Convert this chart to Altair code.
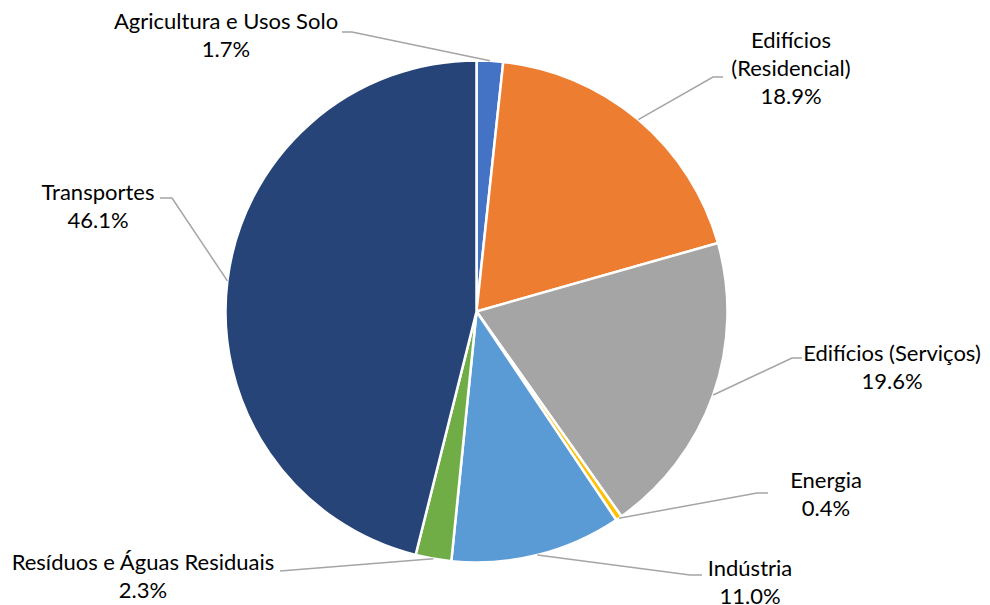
import math
import altair as alt
import pandas as pd

# ---- data ----
names = ["Agricultura e Usos Solo", "Edifícios (Residencial)", "Edifícios (Serviços)",
         "Energia", "Indústria", "Resíduos e Águas Residuais", "Transportes"]
values = [1.7, 18.9, 19.6, 0.4, 11.0, 2.3, 46.1]
colors = ["#4472C4", "#ED7D31", "#A5A5A5", "#FFC000", "#5B9BD5", "#70AD47", "#264478"]
label_lines = [["Agricultura e Usos Solo", "1.7%"],
               ["Edifícios", "(Residencial)", "18.9%"],
               ["Edifícios (Serviços)", "19.6%"],
               ["Energia", "0.4%"],
               ["Indústria", "11.0%"],
               ["Resíduos e Águas Residuais", "2.3%"],
               ["Transportes", "46.1%"]]

# ---- layout (page pixels) ----
W, H = 990, 605
M = 8
VW, VH = W - 2 * M, H - M
CX, CY, R = 476.5, 311.5, 251
label_center = [(226, 22), (791, 41), (892, 354), (826, 481), (750, 569), (143, 563), (98, 193)]
line_gap = 28
leader_elbow = [(352, 32), (713, 77), (792, 358), (757, 493), (690, 575), (280, 571), (172, 198)]
leader_end = [(342, 32), (723, 77), (802, 358), (768, 493), (702, 575), (280, 571), (160, 198)]

pie = pd.DataFrame({"name": names, "value": values, "idx": list(range(len(names)))})

# leader lines: start at slice mid-angle on the rim
rows = []
total = sum(values)
cum = 0.0
for i, v in enumerate(values):
    mid = (cum + v / 2) / total * 2 * math.pi
    cum += v
    sx = CX + R * math.sin(mid)
    sy = CY - R * math.cos(mid)
    pts = [(sx, sy), leader_elbow[i], leader_end[i]]
    for k, (px, py) in enumerate(pts):
        rows.append({"name": names[i], "k": k, "x": px, "y": py})
leaders = pd.DataFrame(rows)

trows = []
for i, lines in enumerate(label_lines):
    lx, ly = label_center[i]
    for j, t in enumerate(lines):
        trows.append({"t": t, "x": lx, "y": ly + j * line_gap})
texts = pd.DataFrame(trows)

xs = alt.Scale(domain=[M, M + VW])
ys = alt.Scale(domain=[M + VH, M])

arcs = alt.Chart(pie).mark_arc(outerRadius=R, stroke="white", strokeWidth=2.5).encode(
    theta=alt.Theta("value:Q", stack=True),
    order=alt.Order("idx:Q"),
    color=alt.Color("name:N", scale=alt.Scale(domain=names, range=colors), legend=None),
    x=alt.value(CX - M),
    y=alt.value(CY - M),
)

lead = alt.Chart(leaders).mark_line(color="#A5A5A5", strokeWidth=1.5).encode(
    x=alt.X("x:Q", scale=xs, axis=None),
    y=alt.Y("y:Q", scale=ys, axis=None),
    detail="name:N",
    order="k:Q",
)

txt = alt.Chart(texts).mark_text(font="Lato", fontSize=22, color="#000000",
                                 align="center", baseline="middle").encode(
    x=alt.X("x:Q", scale=xs, axis=None),
    y=alt.Y("y:Q", scale=ys, axis=None),
    text="t:N",
)

chart = alt.layer(arcs, lead, txt).properties(
    width=VW, height=VH,
    autosize=alt.AutoSizeParams(type="none"),
    padding=0,
).configure_view(stroke=None)

chart.save("out.html", embed_options={"renderer": "svg", "actions": False})
